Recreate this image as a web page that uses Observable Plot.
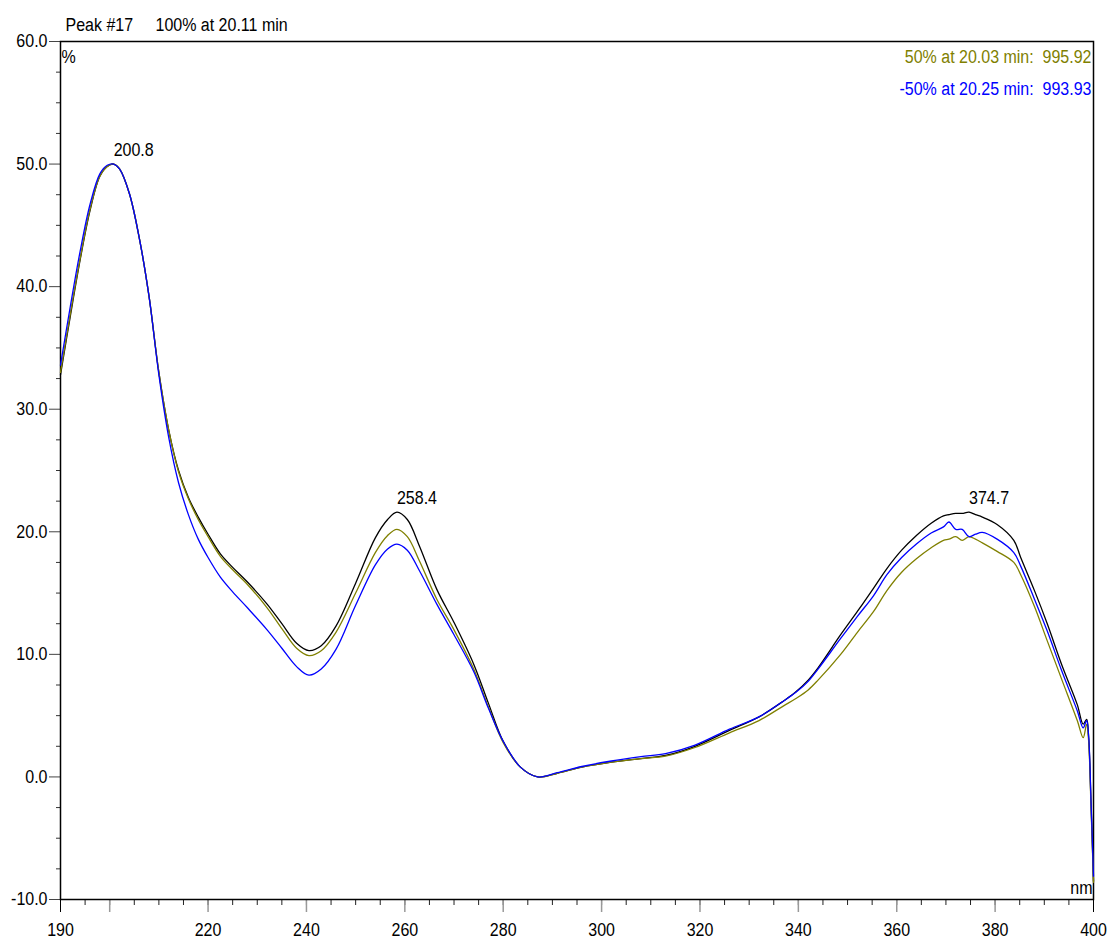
<!DOCTYPE html>
<html>
<head>
<meta charset="utf-8">
<script src="https://cdn.jsdelivr.net/npm/d3@7"></script>
<script src="https://cdn.jsdelivr.net/npm/@observablehq/plot@0.6"></script>
<style>
  html, body { margin: 0; padding: 0; background: #fff; }
  #chart svg { display: block; }
</style>
</head>
<body>
<div id="chart"></div>
<script>
// ---- data ----
const wavelengths = [190, 192, 194, 196, 198, 199.5, 200.8, 202, 204, 206, 208, 210, 212, 214, 216, 218, 220,
  222.5, 225, 228, 232, 235, 238, 240.5, 243, 246, 250,
  254, 256.5, 258.4, 260.5, 263, 266.5, 270, 274, 277, 280,
  283.5, 287, 291, 296, 302, 308, 313, 319, 326, 332,
  337, 339.5, 342, 344, 348.6, 352, 355.3, 358, 361, 364,
  367, 369.5, 370.6, 372, 373.3, 374.7, 376, 377.4, 380.4, 383.8,
  385.2, 388, 390.6, 393.5, 396.7, 397.9, 398.6, 399.0, 399.5, 400];

const spectrum100 = [32.8, 37.6, 42.2, 46.2, 49.0, 49.8, 50.0, 49.6, 47.6, 44.0, 39.2, 33.0, 28.3, 25.0, 22.8, 21.2, 19.8,
  18.2, 17.1, 15.9, 14.1, 12.5, 10.9, 10.3, 10.7, 12.3, 15.8,
  19.5, 21.0, 21.6, 21.0, 18.8, 15.3, 12.6, 9.2, 6.0, 2.9,
  0.8, 0.0, 0.3, 0.8, 1.2, 1.5, 1.75, 2.5, 3.8, 4.9,
  6.2, 6.95, 7.9, 8.9, 11.6, 13.5, 15.4, 17.0, 18.5, 19.7,
  20.7, 21.3, 21.4, 21.5, 21.5, 21.6, 21.4, 21.2, 20.6, 19.3,
  17.9, 15.2, 12.5, 9.2, 5.9, 4.3, 4.7, 3.3, -2.2, -8.5];

const spectrum50 = [33.0, 37.8, 42.3, 46.3, 49.0, 49.8, 50.0, 49.6, 47.6, 44.0, 39.2, 33.0, 28.3, 24.9, 22.7, 21.0, 19.6,
  18.0, 16.9, 15.7, 13.8, 12.1, 10.5, 9.9, 10.3, 11.8, 15.0,
  18.3, 19.7, 20.2, 19.6, 17.6, 14.5, 12.0, 8.8, 5.7, 2.8,
  0.8, 0.0, 0.3, 0.8, 1.2, 1.5, 1.7, 2.4, 3.6, 4.6,
  5.8, 6.4, 7.1, 7.9, 10.0, 11.8, 13.5, 15.2, 16.7, 17.8,
  18.7, 19.3, 19.4, 19.6, 19.3, 19.6, 19.4, 19.1, 18.4, 17.5,
  16.5, 13.9, 11.1, 8.0, 4.6, 3.2, 4.3, 3.0, -2.5, -8.6];

const spectrumMinus50 = [33.6, 38.4, 42.9, 46.7, 49.2, 49.9, 50.0, 49.6, 47.6, 44.0, 39.2, 32.8, 27.7, 24.0, 21.4, 19.4, 17.9,
  16.3, 15.1, 13.8, 12.0, 10.5, 9.0, 8.3, 8.8, 10.4, 14.0,
  17.3, 18.6, 19.0, 18.5, 16.8, 14.1, 11.6, 8.6, 5.6, 2.9,
  0.8, 0.0, 0.35, 0.85, 1.3, 1.65, 1.9, 2.6, 3.9, 4.9,
  6.2, 6.9, 7.8, 8.8, 11.3, 13.1, 14.8, 16.5, 17.9, 19.0,
  19.9, 20.4, 20.8, 20.2, 20.2, 19.6, 19.8, 19.95, 19.4, 18.3,
  17.2, 14.5, 11.9, 8.7, 5.4, 4.0, 4.6, 3.4, -2.0, -8.1];

const peakWavelengths = [200.8, 258.4, 374.7];
const peakValues = [50.0, 21.6, 21.6];

const yMajorTicks = [-10, 0, 10, 20, 30, 40, 50, 60];
const xLabelTicks = [190, 220, 240, 260, 280, 300, 320, 340, 360, 380, 400];

const titleLeft = "Peak #17";
const titleRight = "100% at 20.11 min";
const legend50 = "50% at 20.03 min:\u00a0\u00a0995.92";
const legendMinus50 = "-50% at 20.25 min:\u00a0\u00a0993.93";
const yUnit = "%";
const xUnit = "nm";

// ---- build tables ----
const mk = (vals) => wavelengths.map((w, i) => ({wl: w, v: vals[i]}));
const line100 = mk(spectrum100);
const line50 = mk(spectrum50);
const lineM50 = mk(spectrumMinus50);
const peaks = peakWavelengths.map((w, i) => ({wl: w, v: peakValues[i]}));

const yMinorTicks = d3.range(-10, 60.01, 2.5).filter(d => !yMajorTicks.includes(d));
const xMinorTicks = d3.range(190, 400.01, 5);
const xMajorGrey = d3.range(200, 390, 20);

const font = "'Liberation Sans', Arial, sans-serif";

const chart = Plot.plot({
  width: 1110,
  height: 942,
  marginLeft: 60,
  marginRight: 17,
  marginTop: 41,
  marginBottom: 43,
  style: {fontFamily: font, fontSize: "16px", color: "#000", background: "#fff"},
  x: {domain: [190, 400], label: null},
  y: {domain: [-10, 60], label: null},
  marks: [
    Plot.axisY({ticks: yMinorTicks, tickSize: 4, tickFormat: () => "", label: null, stroke: "#333"}),
    Plot.axisY({ticks: yMajorTicks, tickSize: 11, tickPadding: 2, tickFormat: d => d.toFixed(1), label: null, stroke: "#444", fontSize: 16}),
    Plot.axisX({ticks: xMinorTicks, tickSize: 6, tickFormat: () => "", label: null, stroke: "#222"}),
    Plot.axisX({ticks: xMajorGrey, tickSize: 13, tickFormat: () => "", label: null, stroke: "#999", strokeWidth: 1.5}),
    Plot.axisX({ticks: [190, 400], tickSize: 13, tickFormat: () => "", label: null, stroke: "#000"}),
    Plot.axisX({ticks: xLabelTicks, tickSize: 0, tickPadding: 24, label: null, fontSize: 16}),
    Plot.frame({stroke: "#000", strokeWidth: 1.5}),
    Plot.line(line100, {x: "wl", y: "v", stroke: "#000000", strokeWidth: 1.3, curve: "catmull-rom"}),
    Plot.line(line50, {x: "wl", y: "v", stroke: "#808000", strokeWidth: 1.3, curve: "catmull-rom"}),
    Plot.line(lineM50, {x: "wl", y: "v", stroke: "#0000ff", strokeWidth: 1.3, curve: "catmull-rom"}),
    Plot.text(peaks, {x: "wl", y: "v", text: d => d.wl.toFixed(1), textAnchor: "start", lineAnchor: "bottom", dy: -8, fontSize: 16, fill: "#000"}),
    Plot.text([titleLeft], {frameAnchor: "top-left", textAnchor: "start", lineAnchor: "bottom", dx: 5, dy: -11, fontSize: 16, fill: "#000"}),
    Plot.text([titleRight], {frameAnchor: "top-left", textAnchor: "start", lineAnchor: "bottom", dx: 95, dy: -11, fontSize: 16, fill: "#000"}),
    Plot.text([yUnit], {frameAnchor: "top-left", textAnchor: "start", lineAnchor: "bottom", dx: 1, dy: 21, fontSize: 16, fill: "#000"}),
    Plot.text([xUnit], {frameAnchor: "bottom-right", textAnchor: "end", lineAnchor: "bottom", dx: -1, dy: -6, fontSize: 16, fill: "#000"}),
    Plot.text([legend50], {frameAnchor: "top-right", textAnchor: "end", lineAnchor: "bottom", dx: -2, dy: 21, fontSize: 16, fill: "#808000"}),
    Plot.text([legendMinus50], {frameAnchor: "top-right", textAnchor: "end", lineAnchor: "bottom", dx: -2, dy: 53, fontSize: 16, fill: "#0000ff"})
  ]
});

// stretch glyphs vertically a little, like the reference's tall narrow lettering
chart.querySelectorAll("text").forEach(t => {
  const tr = t.getAttribute("transform");
  if (tr) t.setAttribute("transform", tr + " scale(1,1.13)");
});

document.getElementById("chart").appendChild(chart);
</script>
</body>
</html>
